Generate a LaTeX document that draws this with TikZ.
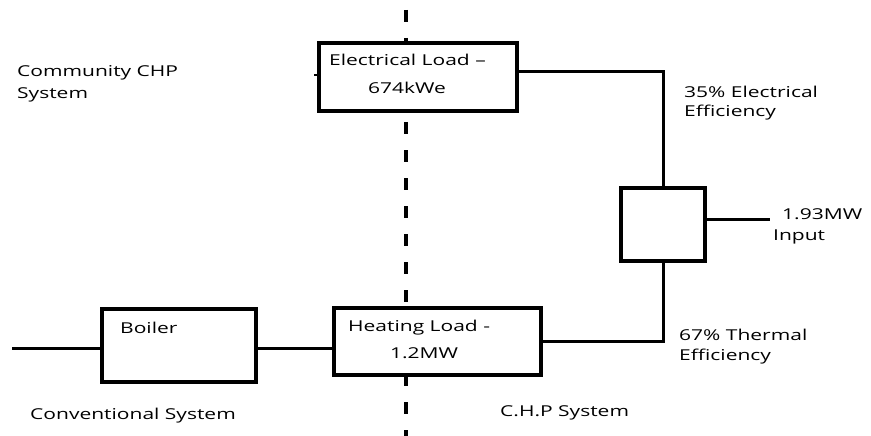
\documentclass[tikz,border=0pt]{standalone}
\usepackage{fontspec}
\setmainfont[FakeStretch=1.4]{Open Sans}
\begin{document}
\begin{tikzpicture}[x=1pt,y=-1pt,
  boxnode/.style={draw=black,line width=3.5pt,fill=white,inner sep=0pt},
  wire/.style={draw=black,line width=3pt},
  divider/.style={draw=black,line width=3.5pt,dash pattern=on 12pt off 16pt},
  txt/.style={anchor=west,inner sep=0pt,font=\fontsize{15}{18}\selectfont}]
\useasboundingbox[fill=white] (0,0) rectangle (871,436);
% divider
\coordinate (dtop) at (406,10);
\coordinate (dbot) at (406,436);
\draw[divider] (dtop) -- (dbot);
% boxes
\node[boxnode,minimum width=198pt,minimum height=68pt] (elec) at (418,77) {};
\node[boxnode,minimum width=84pt,minimum height=73pt] (chp) at (663,224.5) {};
\node[boxnode,minimum width=154pt,minimum height=73pt] (boiler) at (179,345.5) {};
\node[boxnode,minimum width=207pt,minimum height=67pt] (heat) at (437.5,341.5) {};
% connectors
\coordinate (inL) at (12,348);
\coordinate (inR) at (770,219);
\coordinate (stub) at (314,75);
\draw[wire] (elec.east |- 0,72) -| (chp.north);
\draw[wire] (chp.south) |- (heat.east);
\draw[wire] (chp.east |- inR) -- (inR);
\draw[wire] (inL) -- (boiler.west |- inL);
\draw[wire] (boiler.east |- inL) -- (heat.west |- inL);
\draw[wire,line width=2pt] (stub) -- (elec.west |- stub);
% texts
\node[txt] (t1) at (17,73) {Community CHP};
\node[txt] (t2) at (17,95) {System};
\node[txt] (t3) at (329,60) {Electrical Load –};
\node[txt,anchor=center] (t4) at (407,88) {674kWe};
\node[txt] (t5) at (684,92) {35\% Electrical};
\node[txt] (t6) at (684,113) {Efficiency};
\node[txt] (t7) at (782,214) {1.93MW};
\node[txt] (t8) at (773,237) {Input};
\node[txt] (t9) at (679,335) {67\% Thermal};
\node[txt] (t10) at (679,357) {Efficiency};
\node[txt] (t11) at (120,328) {Boiler};
\node[txt] (t12) at (348,328) {Heating Load -};
\node[txt,anchor=center] (t13) at (424,353) {1.2MW};
\node[txt] (t14) at (30,416) {Conventional System};
\node[txt] (t15) at (500,413) {C.H.P System};
\end{tikzpicture}
\end{document}
